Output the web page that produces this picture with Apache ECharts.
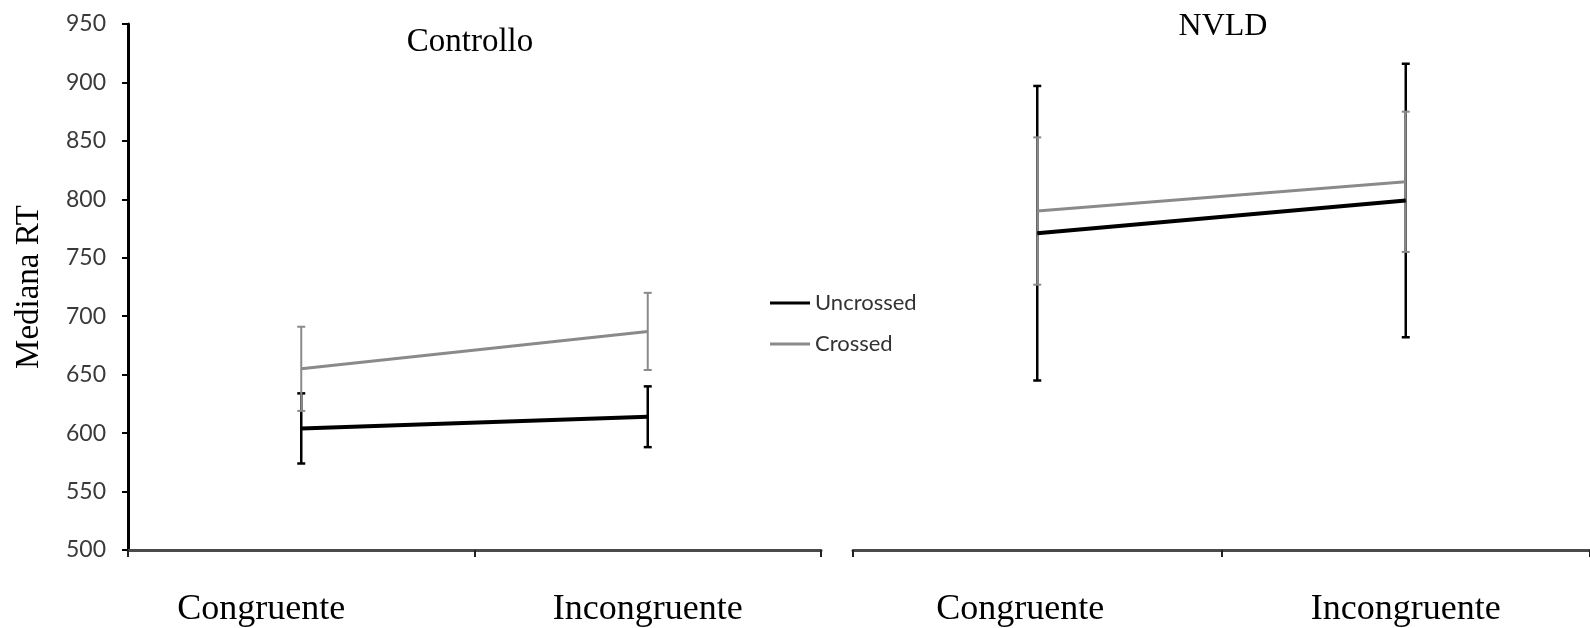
<!DOCTYPE html>
<html>
<head>
<meta charset="utf-8">
<title>Mediana RT</title>
<script src="https://cdn.jsdelivr.net/npm/echarts@6/dist/echarts.min.js"></script>
<style>
  html, body { margin: 0; padding: 0; background: #ffffff; }
  #chart { width: 1590px; height: 628px; }
</style>
</head>
<body>
<div id="chart"></div>
<script>
  // categorie e valori
  const categories = ['Congruente', 'Incongruente']
  const ctrlUncrossed = [604, 614]
  const ctrlUncrossedErr = [30, 26]
  const ctrlCrossed = [655, 687]
  const ctrlCrossedErr = [36, 33]
  const nvldUncrossed = [771, 799]
  const nvldUncrossedErr = [126, 117]
  const nvldCrossed = [790, 815]
  const nvldCrossedErr = [63, 60]

  const BLACK = '#000000'
  const GRAY = '#8a8a8a'

  function errData(values, errs) {
    return values.map((v, i) => [i, v - errs[i], v + errs[i]])
  }

  function errorBars(name, idx, values, errs, color, width) {
    return {
      type: 'custom',
      name: name,
      xAxisIndex: idx,
      yAxisIndex: idx,
      silent: true,
      z: 2,
      itemStyle: { color: color },
      data: errData(values, errs),
      renderItem: function (params, api) {
        const lo = api.coord([api.value(0), api.value(1)])
        const hi = api.coord([api.value(0), api.value(2)])
        const w = 4
        const style = { stroke: color, lineWidth: width }
        return {
          type: 'group',
          children: [
            { type: 'line', shape: { x1: lo[0], y1: lo[1], x2: hi[0], y2: hi[1] }, style: style },
            { type: 'line', shape: { x1: lo[0] - w, y1: lo[1], x2: lo[0] + w, y2: lo[1] }, style: style },
            { type: 'line', shape: { x1: hi[0] - w, y1: hi[1], x2: hi[0] + w, y2: hi[1] }, style: style },
          ],
        }
      },
    }
  }

  function lineSeries(name, idx, values, color, width) {
    return {
      type: 'line',
      name: name,
      xAxisIndex: idx,
      yAxisIndex: idx,
      symbol: 'none',
      z: 3,
      lineStyle: { color: color, width: width },
      itemStyle: { color: color },
      data: values,
    }
  }

  function xAxis(idx, shifts) {
    return {
      type: 'category',
      gridIndex: idx,
      data: categories.map((c, i) => ({
        value: c,
        textStyle: { padding: [0, shifts[i] > 0 ? shifts[i] : 0, 0, shifts[i] < 0 ? -shifts[i] : 0] },
      })),
      axisLine: { lineStyle: { color: '#4a4a4a', width: 3 } },
      axisTick: { show: true, length: 7, lineStyle: { color: '#222', width: 2 } },
      axisLabel: {
        margin: 42,
        fontFamily: 'Liberation Serif',
        fontSize: 36,
        color: '#000',
      },
    }
  }

  function yAxis(idx, visible) {
    return {
      type: 'value',
      gridIndex: idx,
      min: 500,
      max: 950,
      interval: 50,
      splitLine: { show: false },
      axisLine: { show: visible, lineStyle: { color: '#000', width: 3 } },
      axisTick: { show: visible, length: 6, lineStyle: { color: '#000', width: 2 } },
      axisLabel: {
        show: visible,
        margin: 22,
        fontFamily: 'Lato',
        fontSize: 23,
        color: '#3a3a3a',
      },
      name: visible ? 'Mediana RT' : '',
      nameLocation: 'middle',
      nameGap: 82,
      nameTextStyle: { fontFamily: 'Liberation Serif', fontSize: 33, color: '#000' },
    }
  }

  const chart = echarts.init(document.getElementById('chart'))
  chart.setOption({
    backgroundColor: '#ffffff',
    animation: false,
    title: [
      {
        text: 'Controllo',
        left: 465,
        top: 21,
        textAlign: 'center',
        textStyle: { fontFamily: 'Liberation Serif', fontSize: 33, fontWeight: 'normal', color: '#000' },
      },
      {
        text: 'NVLD',
        left: 1218,
        top: 6,
        textAlign: 'center',
        textStyle: { fontFamily: 'Liberation Serif', fontSize: 32, fontWeight: 'normal', color: '#000' },
      },
    ],
    legend: {
      data: ['Uncrossed', 'Crossed'],
      orient: 'vertical',
      left: 765,
      top: 287,
      icon: 'rect',
      itemWidth: 40,
      itemHeight: 3,
      itemGap: 19,
      textStyle: { fontFamily: 'Lato', fontSize: 22, color: '#333' },
    },
    grid: [
      { left: 128, right: 769, top: 24, bottom: 77 },
      { left: 853, right: 0, top: 24, bottom: 77 },
    ],
    xAxis: [xAxis(0, [80, 0]), xAxis(1, [34, 0])],
    yAxis: [yAxis(0, true), yAxis(1, false)],
    series: [
      errorBars('Uncrossed', 0, ctrlUncrossed, ctrlUncrossedErr, BLACK, 2.5),
      errorBars('Crossed', 0, ctrlCrossed, ctrlCrossedErr, GRAY, 2),
      errorBars('Uncrossed', 1, nvldUncrossed, nvldUncrossedErr, BLACK, 2.5),
      errorBars('Crossed', 1, nvldCrossed, nvldCrossedErr, GRAY, 2),
      lineSeries('Uncrossed', 0, ctrlUncrossed, BLACK, 4),
      lineSeries('Crossed', 0, ctrlCrossed, GRAY, 3),
      lineSeries('Uncrossed', 1, nvldUncrossed, BLACK, 4),
      lineSeries('Crossed', 1, nvldCrossed, GRAY, 3),
    ],
  })
  window.onresize = function () {
    chart.resize()
  }
</script>
</body>
</html>
